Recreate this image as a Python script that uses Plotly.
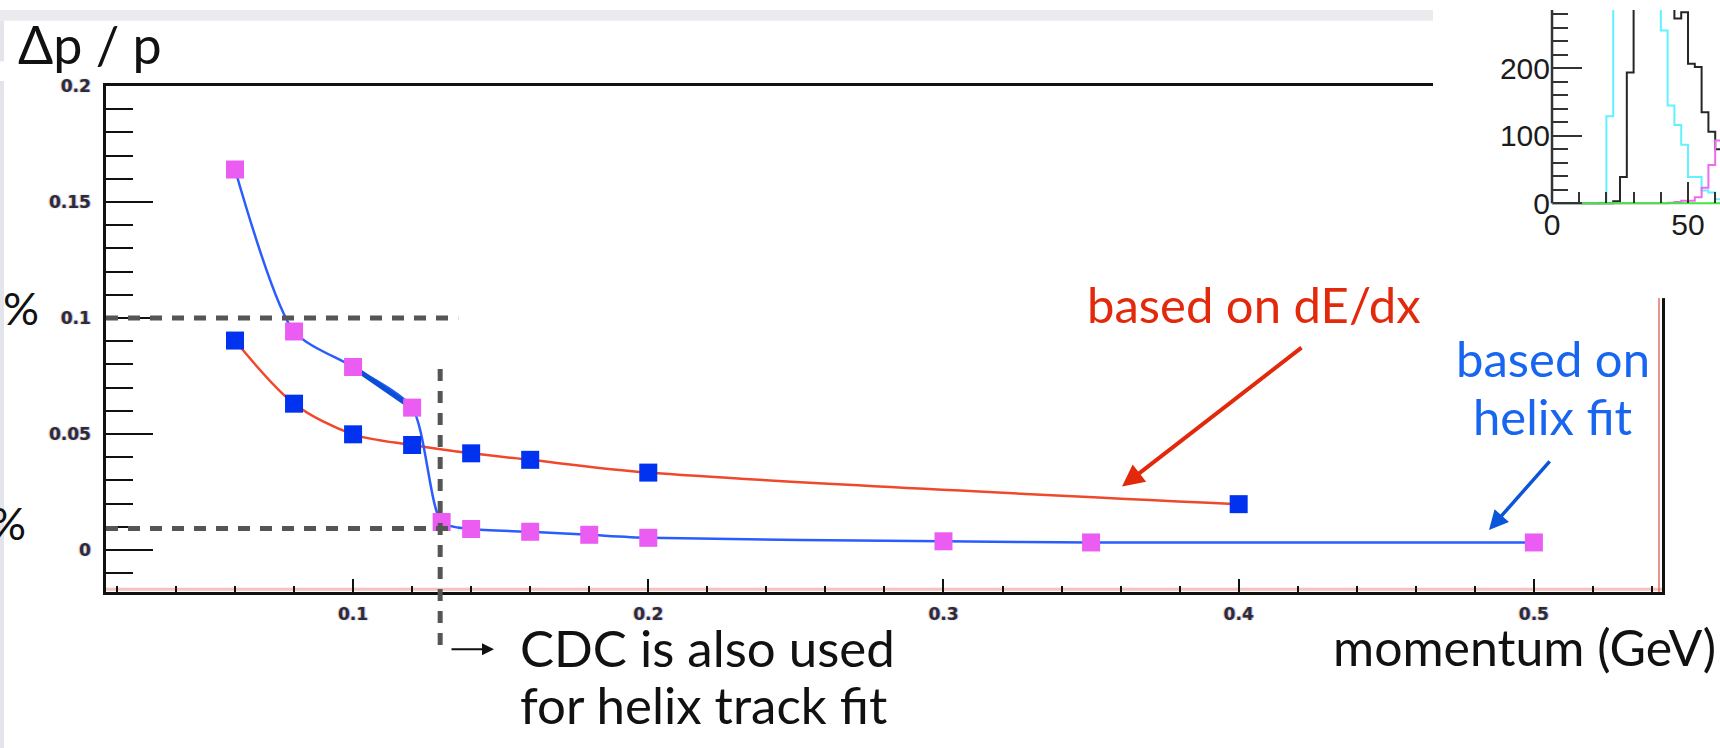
import plotly.graph_objects as go

W, H = 1720, 748

# ---------------- data ----------------
dedx_momentum = [0.06, 0.08, 0.10, 0.12, 0.14, 0.16, 0.20, 0.40]
dedx_resolution = [0.0903, 0.0631, 0.0499, 0.0453, 0.0417, 0.0389, 0.0334, 0.0198]

helix_momentum = [0.06, 0.08, 0.10, 0.12, 0.13, 0.14, 0.16, 0.18, 0.20, 0.30, 0.35, 0.50]
helix_resolution = [0.1640, 0.0942, 0.0789, 0.0614, 0.0121, 0.0091, 0.0079,
                    0.0066, 0.0053, 0.0038, 0.0033, 0.0033]

x_tick_values = [0.1, 0.2, 0.3, 0.4, 0.5]
x_tick_labels = ["0.1", "0.2", "0.3", "0.4", "0.5"]
y_tick_values = [0.0, 0.05, 0.10, 0.15, 0.20]
y_tick_labels = ["0", "0.05", "0.1", "0.15", "0.2"]

guide_levels = [0.10, 0.0093]          # 10 % and 1 % guide lines
guide_end_momentum = 0.1356
cdc_momentum = 0.1295
cdc_guide_top = 0.078

# inset histogram (partly visible)
inset_edges = [0, 2.5, 5, 7.5, 10, 12.5, 15, 17.5, 20, 22.5, 25, 27.5, 30,
               32.5, 35, 37.5, 40, 42.5, 45, 47.5, 50, 52.5, 55, 57.5, 60, 62.5]
cyan_counts = [0, 0, 0, 0, 0, 0, 0, 1, 129, 380, 560, 690, 720, 700, 610, 470,
               256, 145, 116, 87, 39, 39, 19, 16, 6]
black_counts = [0, 0, 0, 0, 0, 0, 0, 0, 0, 3, 39, 194, 420, 610, 700, 640,
                480, 345, 274, 283, 207, 202, 135, 106, 80]
magenta_counts = [0, 0, 0, 0, 0, 0, 0, 0, 0, 0, 0, 0, 0, 0, 0, 0,
                  0, 1, 2, 4, 4, 9, 23, 57, 93]
green_counts = [0, 0, 0, 0, 0, 0, 0, 0, 0, 0, 0, 0, 0, 0, 0, 0,
                0, 0, 0, 0, 0, 0, 0, 0, 0]
inset_y_ticks = [0, 100, 200, 300]
inset_y_minor = [20, 40, 60, 80, 120, 140, 160, 180, 220, 240, 260, 280]
inset_x_ticks = [0, 50]
inset_x_minor = [10, 20, 30, 40, 60]

# ---------------- layout geometry ----------------
def px(x):
    return x / W

def py(y):
    return 1 - y / H

MAIN_X_DOMAIN = [px(106), px(1662)]
MAIN_Y_DOMAIN = [py(590), py(77)]
MAIN_X_RANGE = [0.0163, 0.5434]
MAIN_Y_RANGE = [-0.0181, 0.2]

INSET_X_DOMAIN = [px(1433), 1.0]
INSET_Y_DOMAIN = [py(292), 1.0]
INSET_X_RANGE = [-43.75, 61.76]
INSET_Y_RANGE = [-140.4, 286.5]


def main_y_to_paper(v):
    f = (v - MAIN_Y_RANGE[0]) / (MAIN_Y_RANGE[1] - MAIN_Y_RANGE[0])
    return MAIN_Y_DOMAIN[0] + f * (MAIN_Y_DOMAIN[1] - MAIN_Y_DOMAIN[0])


inset_y_axis_pos = INSET_X_DOMAIN[0] + (0 - INSET_X_RANGE[0]) / (
    INSET_X_RANGE[1] - INSET_X_RANGE[0]) * (INSET_X_DOMAIN[1] - INSET_X_DOMAIN[0])
inset_x_axis_pos = INSET_Y_DOMAIN[0] + (0 - INSET_Y_RANGE[0]) / (
    INSET_Y_RANGE[1] - INSET_Y_RANGE[0]) * (INSET_Y_DOMAIN[1] - INSET_Y_DOMAIN[0])

# ---------------- styles ----------------
RED_LINE = "#f0482c"
BLUE_LINE = "#2a5cff"
BLUE_SQ = "#0032ef"
PINK_SQ = "#ea5cf2"
TEXT_FONT = "Lato, 'Noto Sans', sans-serif"
tick_font = dict(family="DejaVu Sans", size=17, color="#2b2b3c", weight="bold",
                 shadow="-1px 0px 1px rgba(220,150,40,0.55), 1px 0px 1px rgba(60,110,230,0.55)")
inset_font = dict(family="Liberation Sans, Arial", size=30, color="#1c1c1c")

fig = go.Figure()

# curves
fig.add_trace(go.Scatter(x=dedx_momentum, y=dedx_resolution, mode="lines",
                         line=dict(color=RED_LINE, width=2.5, shape="spline", smoothing=0.9),
                         hoverinfo="skip"))
fig.add_trace(go.Scatter(x=helix_momentum, y=helix_resolution, mode="lines",
                         line=dict(color=BLUE_LINE, width=2.5, shape="spline", smoothing=0.7),
                         hoverinfo="skip"))
# hand-drawn thick segment between the 0.10 and 0.12 helix points
fig.add_trace(go.Scatter(x=helix_momentum[2:4], y=helix_resolution[2:4], mode="lines",
                         line=dict(color="#0b4fd6", width=5), hoverinfo="skip"))
# markers
fig.add_trace(go.Scatter(x=dedx_momentum, y=dedx_resolution, mode="markers",
                         marker=dict(symbol="square", size=18, color=BLUE_SQ, line=dict(width=0))))
fig.add_trace(go.Scatter(x=helix_momentum, y=helix_resolution, mode="markers",
                         marker=dict(symbol="square", size=18, color=PINK_SQ, line=dict(width=0))))

# inset histograms
for counts, color in [(cyan_counts, "#62f2ff"), (black_counts, "#262626"),
                      (magenta_counts, "#ee6aee"), (green_counts, "#3fe83f")]:
    fig.add_trace(go.Scatter(x=inset_edges, y=counts + [counts[-1]], xaxis="x2", yaxis="y2",
                             mode="lines", line=dict(color=color, width=2, shape="hv"),
                             hoverinfo="skip"))

shapes = []
# slide background bits
shapes.append(dict(type="rect", xref="paper", yref="paper", x0=0, x1=px(1433), y0=py(11), y1=1,
                   fillcolor="#ebebef", line=dict(width=0), layer="below"))
shapes.append(dict(type="rect", xref="paper", yref="paper", x0=0, x1=px(4), y0=py(52), y1=py(11),
                   fillcolor="#e4e5ea", line=dict(width=0), layer="below"))
shapes.append(dict(type="rect", xref="paper", yref="paper", x0=0, x1=px(4), y0=0, y1=py(72),
                   fillcolor="#e4e5ea", line=dict(width=0), layer="below"))
# reddish frame tint along the bottom and right axes
shapes.append(dict(type="line", xref="paper", yref="paper", x0=MAIN_X_DOMAIN[0], x1=MAIN_X_DOMAIN[1],
                   y0=py(587), y1=py(587), line=dict(color="rgba(235,120,110,0.45)", width=3),
                   layer="below"))
shapes.append(dict(type="line", xref="paper", yref="paper", x0=px(1659), x1=px(1659),
                   y0=MAIN_Y_DOMAIN[0], y1=MAIN_Y_DOMAIN[1],
                   line=dict(color="rgba(220,80,60,0.6)", width=2), layer="below"))
# guide lines
for lvl in guide_levels:
    shapes.append(dict(type="line", xref="x", yref="y", x0=MAIN_X_RANGE[0], x1=guide_end_momentum,
                       y0=lvl, y1=lvl, line=dict(color="#555555", width=5, dash="12px,10px"),
                       layer="above"))
shapes.append(dict(type="line", xref="x", yref="paper", x0=cdc_momentum, x1=cdc_momentum,
                   y0=main_y_to_paper(cdc_guide_top), y1=py(652),
                   line=dict(color="#555555", width=5, dash="12px,10px"), layer="above"))
# inset y axis line
shapes.append(dict(type="line", xref="x2", yref="y2", x0=0, x1=0, y0=0, y1=INSET_Y_RANGE[1],
                   line=dict(color="#333333", width=2.5), layer="above"))

annotations = [
    dict(text="Δp / p", x=px(16), y=py(34), xanchor="left", yanchor="middle",
         font=dict(family=TEXT_FONT, size=52, color="#111111")),
    dict(text="%", x=px(41), y=py(302), xanchor="right", yanchor="middle",
         font=dict(family=TEXT_FONT, size=45, color="#111111")),
    dict(text="%", x=px(28), y=py(520), xanchor="right", yanchor="middle",
         font=dict(family=TEXT_FONT, size=45, color="#111111")),
    dict(text="based on dE/dx", x=px(1254), y=py(298), xanchor="center", yanchor="middle",
         font=dict(family=TEXT_FONT, size=49, color="#e3290b")),
    dict(text="based on", x=px(1553), y=py(353), xanchor="center", yanchor="middle",
         font=dict(family=TEXT_FONT, size=49, color="#1866f0")),
    dict(text="helix fit", x=px(1553), y=py(412), xanchor="center", yanchor="middle",
         font=dict(family=TEXT_FONT, size=49, color="#1866f0")),
    dict(text="CDC is also used", x=px(518), y=py(646), xanchor="left", yanchor="middle",
         font=dict(family=TEXT_FONT, size=51, color="#111111")),
    dict(text="for helix track fit", x=px(518), y=py(704), xanchor="left", yanchor="middle",
         font=dict(family=TEXT_FONT, size=51, color="#111111")),
    dict(text="momentum (GeV)", x=px(1718), y=py(646), xanchor="right", yanchor="middle",
         font=dict(family=TEXT_FONT, size=50, color="#111111")),
    # arrows
    dict(text="", x=px(1122), y=py(483), ax=181, ay=-140, showarrow=True, arrowhead=2,
         arrowsize=1.1, arrowwidth=4, arrowcolor="#e3290b"),
    dict(text="", x=px(1489), y=py(527), ax=62, ay=-70, showarrow=True, arrowhead=2,
         arrowsize=1.1, arrowwidth=3.5, arrowcolor="#0a55d8"),
    dict(text="", x=px(494), y=py(648), ax=-44, ay=0, showarrow=True, arrowhead=2,
         arrowsize=1.2, arrowwidth=2, arrowcolor="#111111"),
]
for a in annotations:
    a.setdefault("xref", "paper")
    a.setdefault("yref", "paper")
    a.setdefault("showarrow", False)

axis_line = dict(showgrid=False, zeroline=False, showline=True, linecolor="#111111",
                 linewidth=2.5, mirror=True, ticks="inside", tickwidth=2, tickcolor="#111111",
                 tickmode="array", tickfont=tick_font)

fig.update_layout(
    width=W, height=H, margin=dict(l=0, r=0, t=0, b=0),
    paper_bgcolor="white", plot_bgcolor="white", showlegend=False,
    xaxis=dict(domain=MAIN_X_DOMAIN, range=MAIN_X_RANGE, tickvals=x_tick_values,
               ticktext=x_tick_labels, ticklen=13, ticklabelstandoff=5,
               minor=dict(ticks="inside", ticklen=6, tickwidth=2, tickcolor="#111111",
                          tick0=0, dtick=0.02, showgrid=False), **axis_line),
    yaxis=dict(domain=MAIN_Y_DOMAIN, range=MAIN_Y_RANGE, tickvals=y_tick_values,
               ticktext=y_tick_labels, ticklen=47, ticklabelstandoff=9,
               minor=dict(ticks="inside", ticklen=27, tickwidth=2, tickcolor="#111111",
                          tick0=0, dtick=0.01, showgrid=False), **axis_line),
    xaxis2=dict(domain=INSET_X_DOMAIN, range=INSET_X_RANGE, anchor="free",
                position=inset_x_axis_pos, showgrid=False, zeroline=False, showline=False,
                ticks="inside", ticklen=21, tickwidth=2, tickcolor="#333333",
                tickmode="array", tickvals=inset_x_ticks, ticktext=[str(v) for v in inset_x_ticks],
                tickfont=inset_font, ticklabelstandoff=1,
                minor=dict(ticks="inside", ticklen=11, tickwidth=2, tickcolor="#333333",
                           tickmode="array", tickvals=inset_x_minor)),
    yaxis2=dict(domain=INSET_Y_DOMAIN, range=INSET_Y_RANGE, anchor="free",
                position=inset_y_axis_pos, showgrid=False, zeroline=False, showline=False,
                ticks="inside", ticklen=29, tickwidth=2, tickcolor="#333333",
                tickmode="array", tickvals=inset_y_ticks, ticktext=[str(v) for v in inset_y_ticks],
                tickfont=inset_font, ticklabelstandoff=2,
                minor=dict(ticks="inside", ticklen=15, tickwidth=2, tickcolor="#333333",
                           tickmode="array", tickvals=inset_y_minor)),
    shapes=shapes,
    annotations=annotations,
)

fig.write_html("out.html")
